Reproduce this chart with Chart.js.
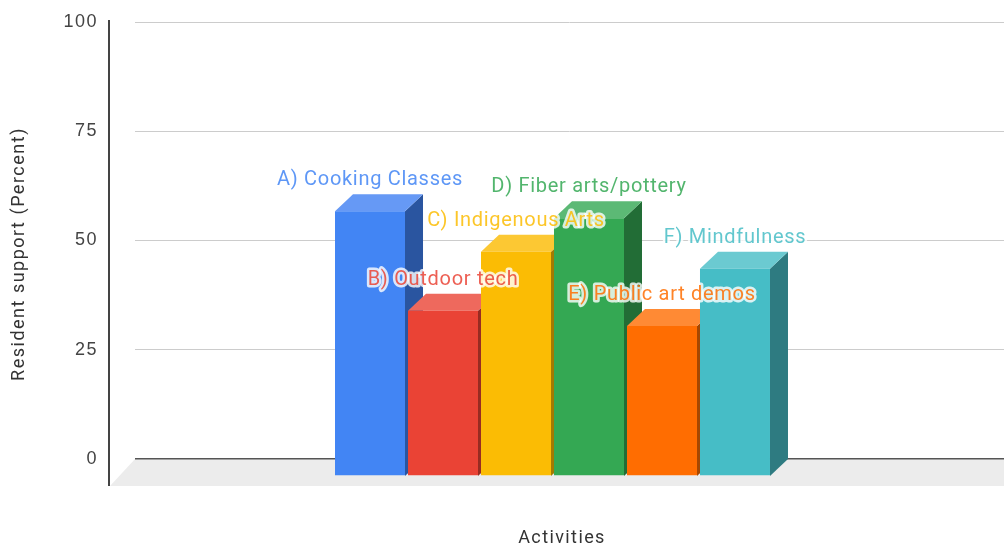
<!DOCTYPE html>
<html><head><meta charset="utf-8">
<style>html,body{margin:0;padding:0;background:#fff}canvas{display:block}</style>
<script src="https://cdn.jsdelivr.net/npm/chart.js@4"></script>
</head><body>
<canvas id="c" width="1004" height="546"></canvas>
<script>
const categories = ['Activities'];
const seriesNames = ['A) Cooking Classes','B) Outdoor tech','C) Indigenous Arts','D) Fiber arts/pottery','E) Public art demos','F) Mindfulness'];
const seriesValues = [60.6, 37.8, 51.3, 59, 34.3, 47.4];
const frontColors = ['#4285f4','#ea4335','#fbbc04','#34a853','#ff6d01','#46bdc6'];
const sideColors = ['#2a55a0','#982c22','#a37a03','#226d36','#a64701','#2e7b81'];
const topColors = ['#6699f5','#ee695d','#fcc833','#5cb975','#ff8a34','#6bcad1'];
const yTicks = [0,25,50,75,100];
const yTitle = 'Resident support (Percent)';
const xTitle = 'Activities';

const DX = 17, DY = 17, DEPTH_X = 18;
const FONT = 'Roboto, sans-serif';

const threeD = {
  id:'threeD',
  beforeDraw(chart){
    const {ctx,chartArea:a,scales:{y}} = chart;
    ctx.letterSpacing = '1.5px';
    const y0 = y.getPixelForValue(0);
    ctx.save();
    ctx.fillStyle = '#ececec';
    ctx.beginPath();
    ctx.moveTo(a.left,y0);ctx.lineTo(a.right,y0);ctx.lineTo(a.right,a.bottom);ctx.lineTo(a.left-25,a.bottom);
    ctx.closePath();ctx.fill();
    ctx.strokeStyle = '#444';ctx.lineWidth = 2;
    ctx.beginPath();ctx.moveTo(a.left-26,a.top-2);ctx.lineTo(a.left-26,a.bottom);ctx.stroke();
    ctx.restore();
  },
  beforeDatasetsDraw(chart){
    const {ctx,scales:{y}} = chart;
    seriesNames.forEach((n,i)=>{
      const meta = chart.getDatasetMeta(i);
      const el = meta.data[0];
      const r = el.x + el.width/2 - DX, l = el.x - el.width/2 - DX;
      const t = el.y + DY, b = y.getPixelForValue(0) + DY;
      ctx.save();
      ctx.fillStyle = sideColors[i];
      ctx.beginPath();
      ctx.moveTo(r,t);ctx.lineTo(r+DEPTH_X,t-DY);ctx.lineTo(r+DEPTH_X,b-DY);ctx.lineTo(r,b);
      ctx.closePath();ctx.fill();
      ctx.fillStyle = topColors[i];
      ctx.beginPath();
      ctx.moveTo(l,t);ctx.lineTo(l+DEPTH_X,t-DY);ctx.lineTo(r+DEPTH_X,t-DY);ctx.lineTo(r,t);
      ctx.closePath();ctx.fill();
      ctx.translate(-DX,DY);
      meta.controller.draw();
      ctx.restore();
    });
  },
  beforeDatasetDraw(){ return false; },
  afterDatasetsDraw(chart){
    const {ctx} = chart;
    ctx.save();
    ctx.font = '20px '+FONT;
    ctx.letterSpacing = '0.7px';
    ctx.textAlign='center';ctx.textBaseline='middle';
    ctx.lineJoin='round';
    seriesNames.forEach((name,i)=>{
      const el = chart.getDatasetMeta(i).data[0];
      const x = el.x - DX, yy = el.y - 14;
      ctx.strokeStyle='rgba(255,255,255,0.8)';ctx.lineWidth=5;
      ctx.strokeText(name,x,yy);
      ctx.fillStyle=frontColors[i];ctx.globalAlpha=0.85;
      ctx.fillText(name,x,yy);
      ctx.globalAlpha=1;
    });
    ctx.letterSpacing = '1.4px';
    ctx.fillStyle='#333';ctx.font='18px '+FONT;
    ctx.fillText(xTitle,562,538);
    ctx.restore();
  }
};

new Chart(document.getElementById('c'),{
  type:'bar',
  data:{
    labels:categories,
    datasets:seriesNames.map((n,i)=>({
      label:n,data:[seriesValues[i]],backgroundColor:frontColors[i],
      clip:false,borderWidth:0,
      categoryPercentage:0.504,barPercentage:0.959
    }))
  },
  options:{
    responsive:false,animation:false,
    layout:{padding:{top:22,right:0,left:0,bottom:0}},
    plugins:{legend:{display:false},tooltip:{enabled:false},title:{display:false}},
    scales:{
      x:{
        offset:true,
        grid:{display:false},border:{display:false},
        ticks:{display:false},
        afterFit(s){s.height=60;}
      },
      y:{
        min:-6.18,max:100,
        afterBuildTicks(s){s.ticks=yTicks.map(v=>({value:v}));},
        afterFit(s){s.width=135;s.paddingTop=0;s.paddingBottom=0;},
        grid:{drawTicks:false,
          color:c=>c.tick&&c.tick.value===0?'#555':'#ccc',
          lineWidth:c=>c.tick&&c.tick.value===0?1.5:1},
        border:{display:false},
        ticks:{padding:37,color:'#444',font:{family:'"Liberation Sans", Arial, sans-serif',size:18},autoSkip:false},
        title:{display:true,text:yTitle,color:'#333',font:{family:FONT,size:18},padding:{top:9,bottom:0}}
      }
    }
  },
  plugins:[threeD]
});
</script>
</body></html>
